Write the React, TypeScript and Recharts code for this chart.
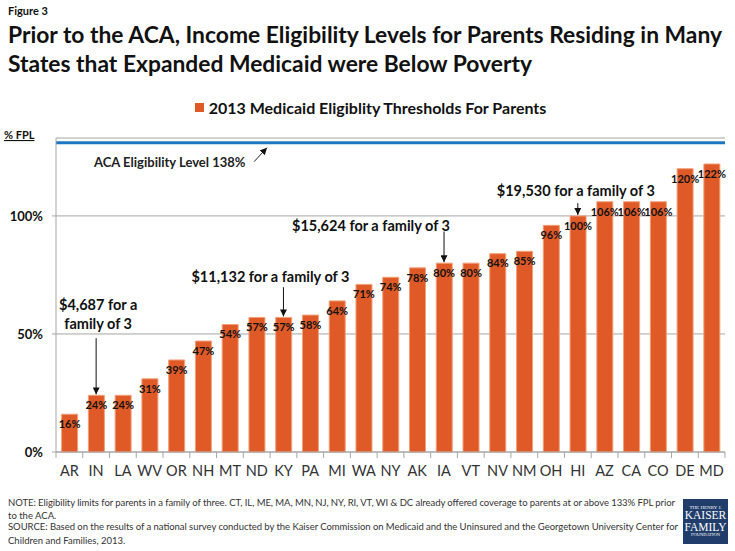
// Figure 3: 2013 Medicaid eligibility thresholds for parents, by state (Recharts)

import { BarChart, Bar, XAxis, YAxis, CartesianGrid, ReferenceLine, ReferenceDot, LabelList, Legend } from 'recharts';

const STATES = ['AR', 'IN', 'LA', 'WV', 'OR', 'NH', 'MT', 'ND', 'KY', 'PA', 'MI', 'WA', 'NY', 'AK', 'IA', 'VT', 'NV', 'NM', 'OH', 'HI', 'AZ', 'CA', 'CO', 'DE', 'MD'];
const THRESHOLDS = [16, 24, 24, 31, 39, 47, 54, 57, 57, 58, 64, 71, 74, 78, 80, 80, 84, 85, 96, 100, 106, 106, 106, 120, 122];
const Y_TICKS = [0, 50, 100];
const Y_MAX = 133;
const ACA_LINE = 131; // where the 138% line sits on the original axis
const SERIES_NAME = '2013 Medicaid Eligiblity Thresholds For Parents';

// callouts: text rows (value units) and arrow from/to (value units)
const CALLOUTS = [
  { state: 'IN', rows: [['$4,687 for a', 62.6], ['family of 3', 54.5]], dx: 2, from: 48.2, to: 24.4 },
  { state: 'KY', rows: [['$11,132 for a family of 3', 74.2]], dx: -13, from: 69.8, to: 57.4 },
  { state: 'IA', rows: [['$15,624 for a family of 3', 95.8]], dx: -73, from: 93.4, to: 80.4 },
  { state: 'HI', rows: [['$19,530 for a family of 3', 110.6]], dx: -2, from: 105.4, to: 100.4 },
];

const data = STATES.map((state, i) => ({ state, value: THRESHOLDS[i] }));

const FONT = 'Lato, "Open Sans", sans-serif';
const ORANGE = '#E05A28';
const BLUE = '#1F77C4';
const GRID = '#A6A6A6';

const CHART_W = 735;
const CHART_H = 551;
const MARGIN = { top: 138, right: 10, bottom: 69, left: 6 };
const Y_AXIS_W = 50;
const BAND = (CHART_W - MARGIN.left - Y_AXIS_W - MARGIN.right) / STATES.length;

function StateTick(props: any) {
  const { x, y, payload, index } = props;
  const last = index === STATES.length - 1;
  return (
    <g>
      <line x1={x - BAND / 2} x2={x - BAND / 2} y1={y} y2={y + 6} stroke={GRID} />
      {last && <line x1={x + BAND / 2} x2={x + BAND / 2} y1={y} y2={y + 6} stroke={GRID} />}
      <text x={x} y={y + 18} textAnchor="middle" dominantBaseline="central" fontFamily={FONT} fontSize={14.5} fill="#333">
        {payload.value}
      </text>
    </g>
  );
}

const calloutText = (text: string, dx: number) => (props: any) => {
  const { viewBox } = props;
  return (
    <text x={viewBox.x + dx} y={viewBox.y} textAnchor="middle" dominantBaseline="central" fontFamily={FONT} fontSize={14.5} fontWeight={700} fill="#111">
      {text}
    </text>
  );
};

const acaLabel = (props: any) => {
  const { viewBox } = props;
  const x = viewBox.x;
  const y = viewBox.y;
  return (
    <g>
      <text x={x + 38} y={y + 19.5} dominantBaseline="central" fontFamily={FONT} fontSize={13} fontWeight={700} fill="#222">
        ACA Eligibility Level 138%
      </text>
      <line x1={x + 198} y1={y + 19} x2={x + 211} y2={y + 5} stroke="#222" strokeWidth={1} markerEnd="url(#arrowHead)" />
    </g>
  );
};

function LegendContent(props: any) {
  const item = props.payload && props.payload[0];
  return (
    <div style={{ display: 'flex', justifyContent: 'center', alignItems: 'center', fontFamily: FONT }}>
      <span style={{ width: 9, height: 9, background: item ? item.color : ORANGE, marginRight: 5 }} />
      <span style={{ fontSize: 16, fontWeight: 700, color: '#111' }}>{item ? item.value : SERIES_NAME}</span>
    </div>
  );
}

export default function App() {
  return (
    <div style={{ position: 'absolute', left: 0, top: 0, width: CHART_W, height: CHART_H, background: '#fff' }}>
      <BarChart width={CHART_W} height={CHART_H} data={data} margin={MARGIN} barCategoryGap="21%">
        <defs>
          <marker id="arrowHead" viewBox="0 0 10 10" refX="10" refY="5" markerWidth="7" markerHeight="7" markerUnits="userSpaceOnUse" orient="auto">
            <path d="M0,0 L10,5 L0,10 z" fill="#111" />
          </marker>
        </defs>
        <CartesianGrid vertical={false} stroke={GRID} />
        <XAxis dataKey="state" stroke={GRID} tickLine={false} tickSize={0} tickMargin={0} tick={<StateTick />} height={30} interval={0} />
        <YAxis
          domain={[0, Y_MAX]}
          ticks={Y_TICKS}
          width={Y_AXIS_W}
          stroke={GRID}
          tickSize={4}
          tickMargin={9}
          tickFormatter={(v: number) => `${v}%`}
          tick={{ fontFamily: FONT, fontSize: 13, fontWeight: 700, fill: '#111' }}
        />
        <Legend verticalAlign="middle" align="center" content={<LegendContent />} wrapperStyle={{ position: 'absolute', top: 98, left: 0, width: 741 }} />
        <Bar dataKey="value" name={SERIES_NAME} fill={ORANGE} stroke="#F2A07A" strokeWidth={1} isAnimationActive={false}>
          <LabelList dataKey="value" position="insideTop" offset={6} formatter={(v: number) => `${v}%`} fill="#111" fontSize={11} fontWeight={700} fontFamily={FONT} />
        </Bar>
        <ReferenceLine y={ACA_LINE} stroke={BLUE} strokeWidth={3} label={acaLabel} />
        {CALLOUTS.map((c) => (
          <ReferenceLine
            key={`arrow-${c.state}`}
            segment={[{ x: c.state, y: c.from }, { x: c.state, y: c.to }]}
            stroke="#111"
            strokeWidth={1}
            markerEnd="url(#arrowHead)"
          />
        ))}
        {CALLOUTS.flatMap((c) =>
          c.rows.map(([text, y]) => (
            <ReferenceDot key={`${c.state}-${text}`} x={c.state} y={y as number} r={0} stroke="none" fill="none" label={calloutText(text as string, c.dx)} />
          ))
        )}
      </BarChart>

      <svg width={CHART_W} height={CHART_H} style={{ position: 'absolute', left: 0, top: 0, pointerEvents: 'none' }} fontFamily={FONT}>
        <text x={8} y={15} fontSize={11} fontWeight={700} fill="#111">Figure 3</text>
        <text x={8} y={43} fontSize={22} fontWeight={700} fill="#111" textLength={714} lengthAdjust="spacingAndGlyphs">
          Prior to the ACA, Income Eligibility Levels for Parents Residing in Many
        </text>
        <text x={8} y={72} fontSize={22} fontWeight={700} fill="#111" textLength={524} lengthAdjust="spacingAndGlyphs">
          States that Expanded Medicaid were Below Poverty
        </text>
        <text x={4} y={139} fontSize={11} fontWeight={700} fill="#111" textDecoration="underline">% FPL</text>
        <g fontSize={9.5} fill="#333">
          <text x={8} y={506} textLength={667} lengthAdjust="spacing">
            NOTE: Eligibility limits for parents in a family of three. CT, IL, ME, MA, MN, NJ, NY, RI, VT, WI &amp; DC already offered coverage to parents at or above 133% FPL prior
          </text>
          <text x={8} y={519}>to the ACA.</text>
          <text x={8} y={530} textLength={670} lengthAdjust="spacing">
            SOURCE: Based on the results of a national survey conducted by the Kaiser Commission on Medicaid and the Uninsured and the Georgetown University Center for
          </text>
          <text x={8} y={543.5}>Children and Families, 2013.</text>
        </g>
      </svg>

      <div
        style={{
          position: 'absolute',
          left: 683,
          top: 499,
          width: 45,
          height: 45,
          background: '#213D6B',
          color: '#fff',
          fontFamily: '"Liberation Serif", "DejaVu Serif", serif',
          textAlign: 'center',
          lineHeight: 1,
          display: 'flex',
          flexDirection: 'column',
          justifyContent: 'center',
        }}
      >
        <div style={{ fontSize: 5 }}>THE HENRY J.</div>
        <div style={{ fontSize: 11.5 }}>KAISER</div>
        <div style={{ fontSize: 11.5 }}>FAMILY</div>
        <div style={{ fontSize: 4.5 }}>FOUNDATION</div>
      </div>
    </div>
  );
}
